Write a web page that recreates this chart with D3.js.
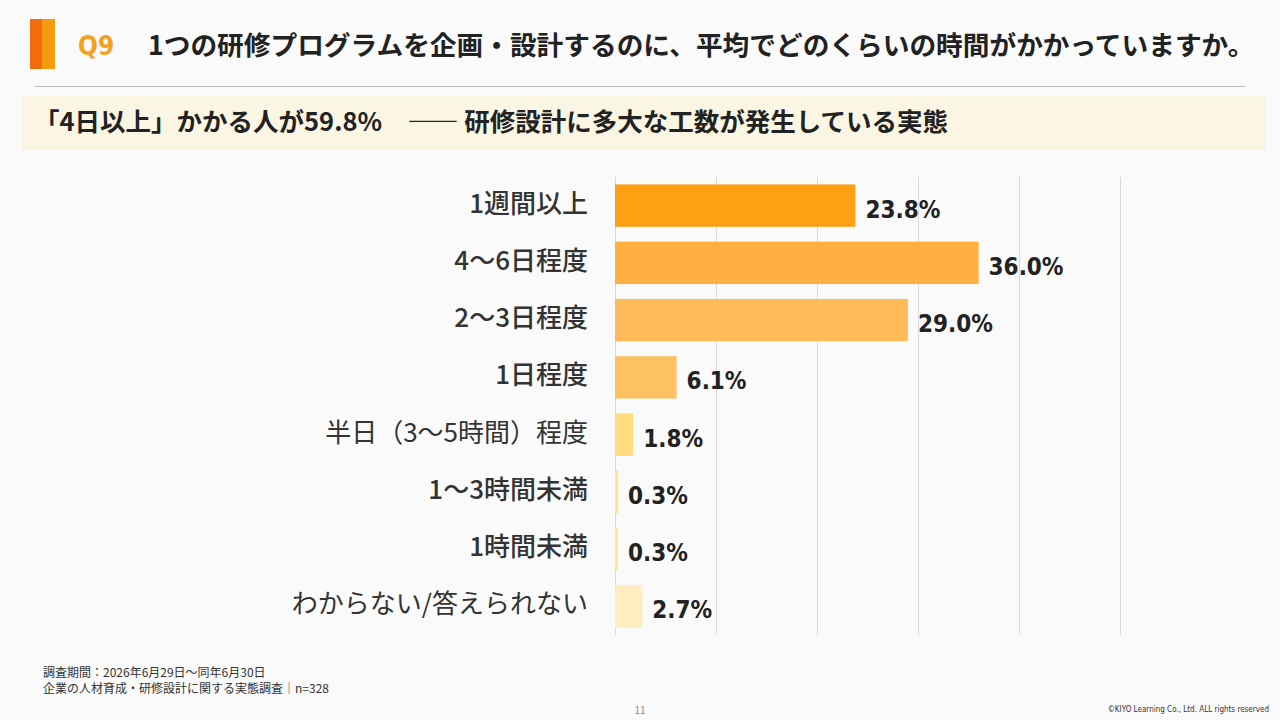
<!DOCTYPE html>
<html><head><meta charset="utf-8">
<script src="https://cdn.jsdelivr.net/npm/d3@7"></script>
<style>body{margin:0;background:#fafafa;}svg{display:block;font-family:"Noto Sans CJK JP","Noto Sans",sans-serif;}</style>
</head><body><svg id="c" width="1280" height="720"></svg>
<script>
var categories=["1週間以上","4〜6日程度","2〜3日程度","1日程度","半日（3〜5時間）程度","1〜3時間未満","1時間未満","わからない/答えられない"];
var values=[23.8,36.0,29.0,6.1,1.8,0.3,0.3,2.7];
var colors=["#ff9f14","#ffae3f","#ffbb5a","#ffc262","#ffdc7c","#ffe392","#ffe79e","#ffedbf"];
var weights=[500,500,500,500,400,500,500,400];
var ticks=[0,10,20,30,40,50];

var svg=d3.select("#c");
svg.append("rect").attr("width",1280).attr("height",720).attr("fill","#fafafa");
// header
svg.append("rect").attr("x",30).attr("y",19).attr("width",12).attr("height",50).attr("fill","#f26b0f");
svg.append("rect").attr("x",42).attr("y",19).attr("width",13).attr("height",50).attr("fill","#f59b10");
svg.append("text").attr("x",78).attr("y",55).attr("font-size",26).attr("font-weight",700).attr("fill","#f5a020")
 .attr("font-family","DejaVu Sans Condensed").text("Q9");
svg.append("text").attr("x",148).attr("y",55).attr("font-size",26.7).attr("font-weight",700).attr("fill","#222").text("1つの研修プログラムを企画・設計するのに、平均でどのくらいの時間がかかっていますか。");
svg.append("line").attr("x1",35).attr("x2",1245).attr("y1",86.5).attr("y2",86.5).attr("stroke","#bbb");
svg.append("rect").attr("x",22).attr("y",96).attr("width",1244).attr("height",54).attr("fill","#fbf5e3");
svg.append("text").attr("x",34).attr("y",131).attr("font-size",25.5).attr("font-weight",700).attr("fill","#222").text("「4日以上」かかる人が59.8%　―― 研修設計に多大な工数が発生している実態");

var x=d3.scaleLinear().domain([0,50]).range([615,1120]);
var y=d3.scaleBand().domain(categories).range([177,635]).paddingInner(0.26).paddingOuter(0.13);

svg.append("g").selectAll("line").data(ticks).join("line")
 .attr("x1",d=>x(d)+0.5).attr("x2",d=>x(d)+0.5).attr("y1",177).attr("y2",635)
 .attr("stroke","#d9d9d9");

var g=svg.append("g");
g.selectAll("rect").data(values).join("rect")
 .attr("x",x(0)).attr("y",(d,i)=>y(categories[i])).attr("height",y.bandwidth())
 .attr("width",d=>x(d)-x(0)).attr("fill",(d,i)=>colors[i]);
g.selectAll("text.v").data(values).join("text").attr("class","v")
 .attr("x",d=>x(d)+10).attr("y",(d,i)=>y(categories[i])+y.bandwidth()/2+12)
 .attr("font-family","DejaVu Sans Condensed")
 .attr("font-size",24).attr("font-weight",700).attr("fill","#222").text(d=>d.toFixed(1)+"%");
g.selectAll("text.c").data(categories).join("text").attr("class","c")
 .attr("x",588).attr("y",d=>y(d)+y.bandwidth()/2+7).attr("text-anchor","end")
 .attr("font-size",26).attr("font-weight",(d,i)=>weights[i]).attr("fill","#333").text(d=>d);

// footer
svg.append("text").attr("x",43).attr("y",677).attr("font-size",12).attr("fill","#333").text("調査期間：2026年6月29日〜同年6月30日");
svg.append("text").attr("x",43).attr("y",693).attr("font-size",12).attr("fill","#333").text("企業の人材育成・研修設計に関する実態調査｜n=328");
svg.append("text").attr("x",640).attr("y",714).attr("font-size",10).attr("fill","#888").attr("text-anchor","middle").text("11");
svg.append("text").attr("x",1269).attr("y",712).attr("font-size",8).attr("fill","#333").attr("text-anchor","end")
 .attr("font-family","DejaVu Sans Condensed").text("©KIYO Learning Co., Ltd. ALL rights reserved");
</script></body></html>
